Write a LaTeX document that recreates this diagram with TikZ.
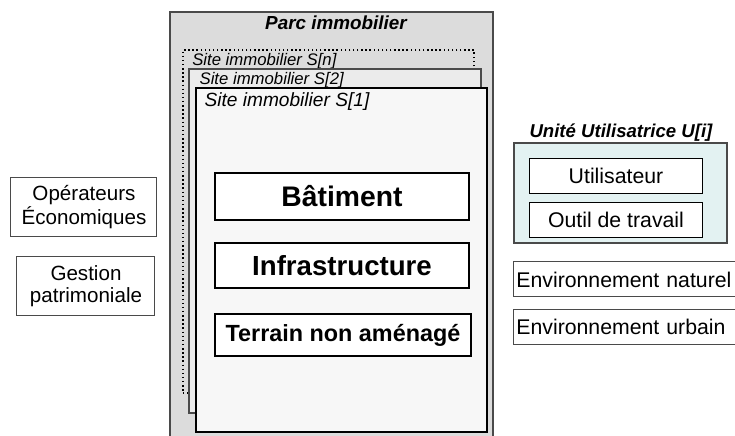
\documentclass[tikz,border=0pt]{standalone}
\usepackage{fontspec}
\setmainfont{Liberation Sans}
\usetikzlibrary{positioning}
\definecolor{parcgray}{HTML}{DCDCDC}
\definecolor{sitegray}{HTML}{EBEBEB}
\definecolor{sitewhite}{HTML}{F7F7F7}
\definecolor{unitfill}{HTML}{E3F2F2}
\definecolor{framegray}{HTML}{4A4A4A}

\begin{document}
\begin{tikzpicture}[
  x=1cm,
  y=1cm,
  font=\fontsize{15.5}{16.5}\selectfont,
  frame/.style={draw=framegray, line width=0.9pt, inner sep=0pt},
  thinbox/.style={draw=framegray, line width=0.75pt, fill=white, align=center, inner sep=0pt},
  partbox/.style={draw=black, line width=2.2pt, fill=white, inner sep=0pt, font=\fontsize{21.3}{23}\selectfont\bfseries},
  sitelabel/.style={anchor=west, inner sep=0pt, font=\fontsize{12.6}{14}\selectfont\itshape},
  envbox/.style={draw=framegray, line width=0.75pt, fill=white, anchor=west, text width=6.3cm, align=left, inner xsep=2.2pt, minimum height=0.926cm, font=\fontsize{16}{18}\selectfont}
]
\useasboundingbox (0,0) rectangle (19.447,11.536);
\clip (0,0) rectangle (19.447,11.536);

% parc immobilier
\node[frame, fill=parcgray, minimum width=8.546cm, minimum height=11.324cm] (parc) at (8.771,5.556) {};
\node[inner sep=0pt, font=\fontsize{14.2}{16}\selectfont\bfseries\itshape] (parctitle) at (8.890,10.927) {Parc immobilier};

% sites S[n], S[2], S[1]
\node[draw=black, dotted, line width=1.1pt, minimum width=7.699cm, minimum height=9.075cm] (siten) at (8.691,5.675) {};
\node[sitelabel] (siten label) at (5.080,9.922) {Site immobilier S[n]};
\node[frame, fill=sitegray, minimum width=7.726cm, minimum height=9.102cm] (site2) at (8.863,5.159) {};
\node[sitelabel] (site2 label) at (5.274,9.419) {Site immobilier S[2]};
\node[draw=black, line width=0.9pt, fill=sitewhite, inner sep=0pt, minimum width=7.699cm, minimum height=9.102cm] (site1) at (9.035,4.657) {};
\node[sitelabel, font=\fontsize{14.4}{16}\selectfont\itshape] (site1 label) at (5.406,8.837) {Site immobilier S[1]};

\node[partbox, minimum width=6.720cm, minimum height=1.244cm] (batiment) at (9.049,6.337) {Bâtiment};
\node[partbox, minimum width=6.720cm, minimum height=1.191cm, font=\fontsize{20.8}{23}\selectfont\bfseries] (infra) at (9.049,4.511) {Infrastructure};
\node[partbox, minimum width=6.773cm, minimum height=1.111cm, font=\fontsize{17.6}{19}\selectfont\bfseries] (terrain) at (9.075,2.672) {Terrain non aménagé};

% acteurs a gauche
\node[thinbox, minimum width=3.863cm, minimum height=1.587cm] (operateurs) at (2.222,6.059) {Opérateurs\\Économiques};
\node[thinbox, minimum width=3.651cm, minimum height=1.561cm] (gestion) at (2.275,3.956) {Gestion\\patrimoniale};

% unite utilisatrice
\node[frame, fill=unitfill, minimum width=5.636cm, minimum height=2.646cm] (unite) at (16.417,6.429) {};
\node[inner sep=0pt, font=\fontsize{14}{16}\selectfont\bfseries\itshape] (unitetitle) at (16.430,8.017) {Unité Utilisatrice U[i]};
\node[thinbox, draw=black, minimum width=4.551cm, minimum height=0.926cm, font=\fontsize{16}{18}\selectfont] (utilisateur) at (16.298,6.892) {Utilisateur};
\node[thinbox, draw=black, minimum width=4.551cm, minimum height=0.926cm, font=\fontsize{16}{18}\selectfont, below=0.212cm of utilisateur] (outil) {Outil de travail};

% environnements
\node[envbox] (envnat) at (13.573,4.141) {Environnement naturel};
\node[envbox, minimum height=0.900cm] (envurb) at (13.573,2.884) {Environnement urbain};

\end{tikzpicture}
\end{document}
